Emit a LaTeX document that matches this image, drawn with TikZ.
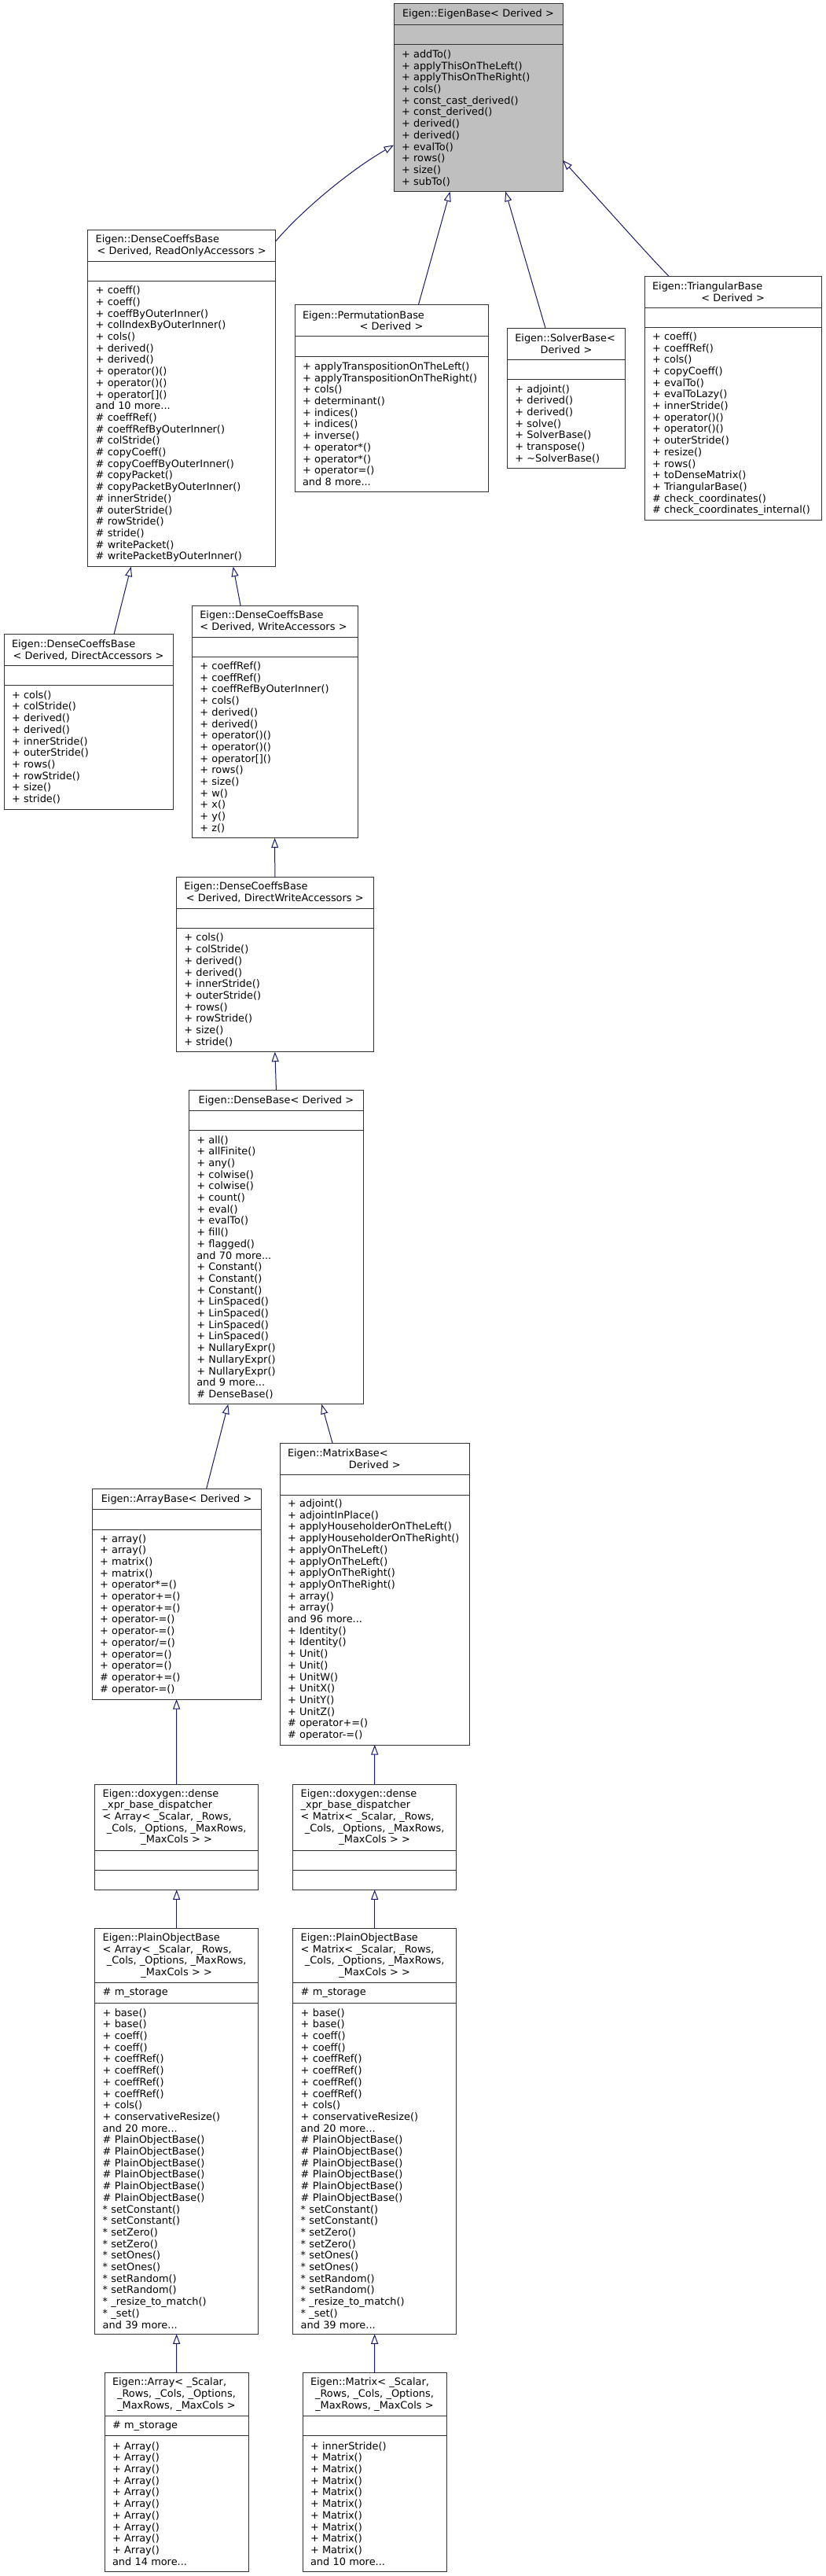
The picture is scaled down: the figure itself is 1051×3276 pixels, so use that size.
\documentclass[tikz,border=0pt]{standalone}
\usepackage{fontspec}
\setmainfont{DejaVu Sans}
\usetikzlibrary{arrows.meta}
\definecolor{edgeblue}{HTML}{191970}
\hyphenpenalty=10000
\exhyphenpenalty=10000
\newcommand{\mline}[1]{\leavevmode\hbox to \hsize{\hss#1\hss}}
\tikzset{
  sec/.style={draw=black!80, line width=1pt, outer sep=0pt, inner xsep=10pt,
              inner ysep=1pt, anchor=north west, align=left,
              font=\fontsize{12.9}{14.7}\selectfont},
  basesec/.style={sec, fill=black!25},
  inh/.style={-{Triangle[open, length=12.5pt, width=9pt]}, draw=edgeblue,
              line width=1pt},
}

\begin{document}
\begin{tikzpicture}[x=1pt, y=-1pt]
\fill[white] (0,0) rectangle (1051,3276);
\useasboundingbox (0,0) rectangle (1051,3276);

% root
\node[basesec, text width=195pt, minimum height=26.7pt] (ebT) at (501,5)
  {\mline{Eigen::EigenBase< Derived >}};
\node[basesec, text width=195pt, minimum height=25pt] (ebA) at (ebT.south west) {};
\node[basesec, text width=195pt, minimum height=187pt] (ebM) at (ebA.south west)
  {+ addTo()\\+ applyThisOnTheLeft()\\+ applyThisOnTheRight()\\+ cols()\\
   + const\_cast\_derived()\\+ const\_derived()\\+ derived()\\+ derived()\\
   + evalTo()\\+ rows()\\+ size()\\+ subTo()};

% first level
\node[sec, text width=219pt, minimum height=39.6pt] (roT) at (111.7,292.7)
  {Eigen::DenseCoeffsBase\\\mline{< Derived, ReadOnlyAccessors >}};
\node[sec, text width=219pt, minimum height=25.4pt] (roA) at (roT.south west) {};
\node[sec, text width=219pt, minimum height=363pt] (roM) at (roA.south west)
  {+ coeff()\\+ coeff()\\+ coeffByOuterInner()\\+ colIndexByOuterInner()\\
   + cols()\\+ derived()\\+ derived()\\+ operator()()\\+ operator()()\\
   + operator[]()\\and 10 more...\\\# coeffRef()\\\# coeffRefByOuterInner()\\
   \# colStride()\\\# copyCoeff()\\\# copyCoeffByOuterInner()\\\# copyPacket()\\
   \# copyPacketByOuterInner()\\\# innerStride()\\\# outerStride()\\
   \# rowStride()\\\# stride()\\\# writePacket()\\\# writePacketByOuterInner()};

\node[sec, text width=226pt, minimum height=40pt] (permT) at (375,387.7)
  {Eigen::PermutationBase\\\mline{< Derived >}};
\node[sec, text width=226pt, minimum height=25.6pt] (permA) at (permT.south west) {};
\node[sec, text width=226pt, minimum height=171.7pt] (permM) at (permA.south west)
  {+ applyTranspositionOnTheLeft()\\+~applyTranspositionOnTheRight()\\+ cols()\\
   + determinant()\\+ indices()\\+ indices()\\+ inverse()\\+ operator*()\\
   + operator*()\\+ operator=()\\and 8 more...};

\node[sec, text width=130.4pt, minimum height=39.7pt] (solvT) at (645.3,417.3)
  {Eigen::SolverBase<\\\mline{Derived >}};
\node[sec, text width=130.4pt, minimum height=25.7pt] (solvA) at (solvT.south west) {};
\node[sec, text width=130.4pt, minimum height=113pt] (solvM) at (solvA.south west)
  {+ adjoint()\\+ derived()\\+ derived()\\+ solve()\\+ SolverBase()\\
   + transpose()\\+ \textasciitilde SolverBase()};

\node[sec, text width=205.3pt, minimum height=39.3pt] (triT) at (820,351.7)
  {Eigen::TriangularBase\\\mline{< Derived >}};
\node[sec, text width=205.3pt, minimum height=25.7pt] (triA) at (triT.south west) {};
\node[sec, text width=205.3pt, minimum height=245pt] (triM) at (triA.south west)
  {+ coeff()\\+ coeffRef()\\+ cols()\\+ copyCoeff()\\+ evalTo()\\+ evalToLazy()\\
   + innerStride()\\+ operator()()\\+ operator()()\\+ outerStride()\\+ resize()\\
   + rows()\\+ toDenseMatrix()\\+ TriangularBase()\\\# check\_coordinates()\\
   \#~check\_coordinates\_internal()};

% accessors
\node[sec, text width=195pt, minimum height=40pt] (daT) at (5,806.7)
  {Eigen::DenseCoeffsBase\\\mline{< Derived, DirectAccessors >}};
\node[sec, text width=195pt, minimum height=25pt] (daA) at (daT.south west) {};
\node[sec, text width=195pt, minimum height=157.3pt] (daM) at (daA.south west)
  {+ cols()\\+ colStride()\\+ derived()\\+ derived()\\+ innerStride()\\
   + outerStride()\\+ rows()\\+ rowStride()\\+ size()\\+ stride()};

\node[sec, text width=190.7pt, minimum height=40pt] (waT) at (244.3,770)
  {Eigen::DenseCoeffsBase\\< Derived, WriteAccessors >};
\node[sec, text width=190.7pt, minimum height=25pt] (waA) at (waT.south west) {};
\node[sec, text width=190.7pt, minimum height=230.7pt] (waM) at (waA.south west)
  {+ coeffRef()\\+ coeffRef()\\+ coeffRefByOuterInner()\\+ cols()\\+ derived()\\
   + derived()\\+ operator()()\\+ operator()()\\+ operator[]()\\+ rows()\\
   + size()\\+ w()\\+ x()\\+ y()\\+ z()};

\node[sec, text width=231pt, minimum height=40pt] (dwaT) at (224.3,1115)
  {Eigen::DenseCoeffsBase\\\mline{< Derived, DirectWriteAccessors >}};
\node[sec, text width=231pt, minimum height=25.3pt] (dwaA) at (dwaT.south west) {};
\node[sec, text width=231pt, minimum height=157.4pt] (dwaM) at (dwaA.south west)
  {+ cols()\\+ colStride()\\+ derived()\\+ derived()\\+ innerStride()\\
   + outerStride()\\+ rows()\\+ rowStride()\\+ size()\\+ stride()};

% dense
\node[sec, text width=202.4pt, minimum height=25.7pt] (dbT) at (240.3,1386.9)
  {\mline{Eigen::DenseBase< Derived >}};
\node[sec, text width=202.4pt, minimum height=25pt] (dbA) at (dbT.south west) {};
\node[sec, text width=202.4pt, minimum height=348.2pt] (dbM) at (dbA.south west)
  {+ all()\\+ allFinite()\\+ any()\\+ colwise()\\+ colwise()\\+ count()\\
   + eval()\\+ evalTo()\\+ fill()\\+ flagged()\\and 70 more...\\+ Constant()\\
   + Constant()\\+ Constant()\\+ LinSpaced()\\+ LinSpaced()\\+ LinSpaced()\\
   + LinSpaced()\\+ NullaryExpr()\\+ NullaryExpr()\\+ NullaryExpr()\\
   and 9 more...\\\# DenseBase()};

\node[sec, text width=195pt, minimum height=25.4pt] (abT) at (117.1,1893.9)
  {\mline{Eigen::ArrayBase< Derived >}};
\node[sec, text width=195pt, minimum height=25.7pt] (abA) at (abT.south west) {};
\node[sec, text width=195pt, minimum height=216pt] (abM) at (abA.south west)
  {+ array()\\+ array()\\+ matrix()\\+ matrix()\\+ operator*=()\\
   + operator+=()\\+ operator+=()\\+ operator-=()\\+ operator-=()\\
   + operator/=()\\+ operator=()\\+ operator=()\\\# operator+=()\\
   \# operator-=()};

\node[sec, text width=221.5pt, minimum height=40.4pt] (mbT) at (356,1835)
  {Eigen::MatrixBase<\\\mline{Derived >}};
\node[sec, text width=221.5pt, minimum height=25.6pt] (mbA) at (mbT.south west) {};
\node[sec, text width=221.5pt, minimum height=318pt] (mbM) at (mbA.south west)
  {+ adjoint()\\+ adjointInPlace()\\+ applyHouseholderOnTheLeft()\\
   +~applyHouseholderOnTheRight()\\+ applyOnTheLeft()\\+ applyOnTheLeft()\\
   + applyOnTheRight()\\+ applyOnTheRight()\\+ array()\\+ array()\\
   and 96 more...\\+ Identity()\\+ Identity()\\+ Unit()\\+ Unit()\\+ UnitW()\\
   + UnitX()\\+ UnitY()\\+ UnitZ()\\\# operator+=()\\\# operator-=()};

% dispatchers
\node[sec, text width=188pt, minimum height=84pt] (dispaT) at (120.7,2269)
  {Eigen::doxygen::dense\\\_xpr\_base\_dispatcher\\< Array< \_Scalar, \_Rows,\\
   \mline{\_Cols, \_Options, \_MaxRows,}\\\mline{\_MaxCols > >}};
\node[sec, text width=188pt, minimum height=25pt] (dispaA) at (dispaT.south west) {};
\node[sec, text width=188pt, minimum height=25.3pt] (dispaM) at (dispaA.south west) {};

\node[sec, text width=188pt, minimum height=84pt] (dispmT) at (372.7,2269)
  {Eigen::doxygen::dense\\\_xpr\_base\_dispatcher\\< Matrix< \_Scalar, \_Rows,\\
   \mline{\_Cols, \_Options, \_MaxRows,}\\\mline{\_MaxCols > >}};
\node[sec, text width=188pt, minimum height=25pt] (dispmA) at (dispmT.south west) {};
\node[sec, text width=188pt, minimum height=25.3pt] (dispmM) at (dispmA.south west) {};

% plain objects
\node[sec, text width=188pt, minimum height=69.4pt] (pobaT) at (120.7,2452.3)
  {Eigen::PlainObjectBase\\< Array< \_Scalar, \_Rows,\\
   \mline{\_Cols, \_Options, \_MaxRows,}\\\mline{\_MaxCols > >}};
\node[sec, text width=188pt, minimum height=25.6pt] (pobaA) at (pobaT.south west)
  {\# m\_storage};
\node[sec, text width=188pt, minimum height=421pt] (pobaM) at (pobaA.south west)
  {+ base()\\+ base()\\+ coeff()\\+ coeff()\\+ coeffRef()\\+ coeffRef()\\
   + coeffRef()\\+ coeffRef()\\+ cols()\\+ conservativeResize()\\and 20 more...\\
   \# PlainObjectBase()\\\# PlainObjectBase()\\\# PlainObjectBase()\\
   \# PlainObjectBase()\\\# PlainObjectBase()\\\# PlainObjectBase()\\
   {*} setConstant()\\{*} setConstant()\\{*} setZero()\\{*} setZero()\\
   {*} setOnes()\\{*} setOnes()\\{*} setRandom()\\{*} setRandom()\\
   {*} \_resize\_to\_match()\\{*} \_set()\\and 39 more...};

\node[sec, text width=188pt, minimum height=69.4pt] (pobmT) at (372.7,2452.3)
  {Eigen::PlainObjectBase\\< Matrix< \_Scalar, \_Rows,\\
   \mline{\_Cols, \_Options, \_MaxRows,}\\\mline{\_MaxCols > >}};
\node[sec, text width=188pt, minimum height=25.6pt] (pobmA) at (pobmT.south west)
  {\# m\_storage};
\node[sec, text width=188pt, minimum height=421pt] (pobmM) at (pobmA.south west)
  {+ base()\\+ base()\\+ coeff()\\+ coeff()\\+ coeffRef()\\+ coeffRef()\\
   + coeffRef()\\+ coeffRef()\\+ cols()\\+ conservativeResize()\\and 20 more...\\
   \# PlainObjectBase()\\\# PlainObjectBase()\\\# PlainObjectBase()\\
   \# PlainObjectBase()\\\# PlainObjectBase()\\\# PlainObjectBase()\\
   {*} setConstant()\\{*} setConstant()\\{*} setZero()\\{*} setZero()\\
   {*} setOnes()\\{*} setOnes()\\{*} setRandom()\\{*} setRandom()\\
   {*} \_resize\_to\_match()\\{*} \_set()\\and 39 more...};

% leaves
\node[sec, text width=163pt, minimum height=54.6pt] (arrT) at (133,3017.7)
  {Eigen::Array< \_Scalar,\\\mline{\_Rows, \_Cols, \_Options,}\\
   \mline{\_MaxRows, \_MaxCols >}};
\node[sec, text width=163pt, minimum height=25.4pt] (arrA) at (arrT.south west)
  {\# m\_storage};
\node[sec, text width=163pt, minimum height=172.3pt] (arrM) at (arrA.south west)
  {+ Array()\\+ Array()\\+ Array()\\+ Array()\\+ Array()\\+ Array()\\
   + Array()\\+ Array()\\+ Array()\\+ Array()\\and 14 more...};

\node[sec, text width=163pt, minimum height=54.6pt] (matT) at (385,3017.7)
  {Eigen::Matrix< \_Scalar,\\\mline{\_Rows, \_Cols, \_Options,}\\
   \mline{\_MaxRows, \_MaxCols >}};
\node[sec, text width=163pt, minimum height=25.4pt] (matA) at (matT.south west) {};
\node[sec, text width=163pt, minimum height=172.3pt] (matM) at (matA.south west)
  {+ innerStride()\\+ Matrix()\\+ Matrix()\\+ Matrix()\\+ Matrix()\\
   + Matrix()\\+ Matrix()\\+ Matrix()\\+ Matrix()\\+ Matrix()\\and 10 more...};

% inheritance
\draw[inh] ([yshift=5.6pt]roT.east) .. controls (380,272) and (440,220) ..
  ([yshift=-34.3pt]ebM.west);
\draw[inh] ([xshift=34.4pt]permT.north) -- ([xshift=-35.9pt]ebM.south);
\draw[inh] ([xshift=-26.5pt]solvT.north) -- ([xshift=34.7pt]ebM.south);
\draw[inh] ([xshift=-81.2pt]triT.north) .. controls (826,326) and (775,268) ..
  ([yshift=-53.6pt]ebM.east);
\draw[inh] ([xshift=32.5pt]daT.north) -- ([xshift=-64.5pt]roM.south);
\draw[inh] ([xshift=-43.6pt]waT.north) -- ([xshift=65.5pt]roM.south);
\draw[inh] (dwaT.north) -- (waM.south);
\draw[inh] (dbT.north) -- (dwaM.south);
\draw[inh] ([xshift=37.9pt]abT.north) -- ([xshift=-61.2pt]dbM.south);
\draw[inh] ([xshift=-53.8pt]mbT.north) -- ([xshift=57.8pt]dbM.south);
\draw[inh] (dispaT.north) -- (abM.south);
\draw[inh] (dispmT.north) -- (mbM.south);
\draw[inh] (pobaT.north) -- (dispaM.south);
\draw[inh] (pobmT.north) -- (dispmM.south);
\draw[inh] (arrT.north) -- (pobaM.south);
\draw[inh] (matT.north) -- (pobmM.south);

\end{tikzpicture}
\end{document}
